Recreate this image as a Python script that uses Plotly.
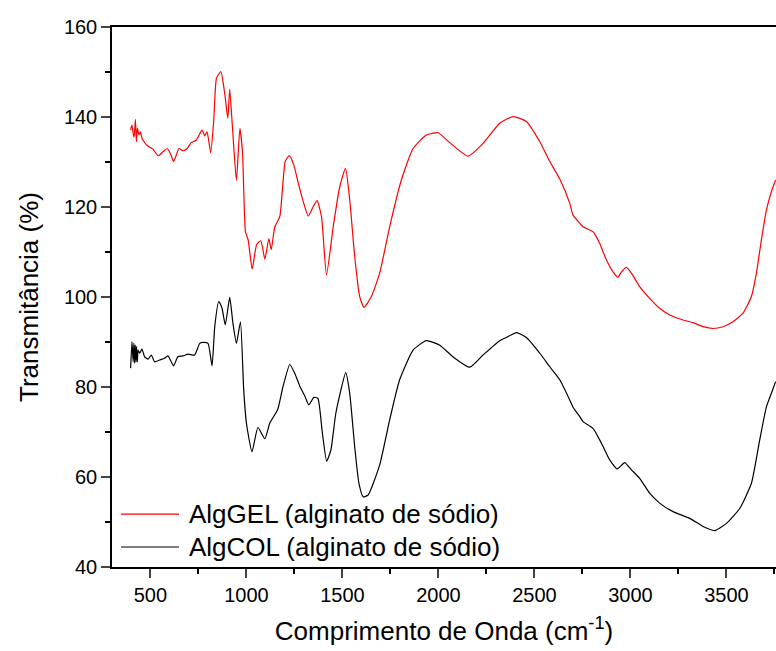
import plotly.graph_objects as go

# FTIR spectra of sodium alginate samples (wavenumber in cm-1, transmittance in %)
gel_wavenumber = [397, 404, 410, 415, 422, 427, 432, 441, 448, 456, 467, 479, 496, 514, 540,
                  566, 588, 604, 621, 649, 670, 691, 713, 739, 769, 783, 795, 814, 830, 844,
                  867, 888, 903, 913, 927, 948, 966, 980, 995, 1009, 1030, 1053, 1075, 1096,
                  1117, 1129, 1148, 1174, 1202, 1223, 1247, 1270, 1296, 1322, 1348, 1368,
                  1391, 1417, 1452, 1486, 1516, 1538, 1564, 1590, 1612, 1651, 1694, 1746,
                  1807, 1868, 1937, 1998, 2059, 2154, 2232, 2319, 2389, 2458, 2528, 2580,
                  2632, 2684, 2701, 2736, 2753, 2805, 2840, 2875, 2909, 2935, 2953, 2979,
                  3005, 3048, 3100, 3152, 3205, 3274, 3326, 3378, 3430, 3482, 3534, 3586,
                  3630, 3656, 3682, 3708, 3734, 3756]
gel_transmittance = [137.1, 138.2, 136.4, 135.5, 139.5, 134.5, 137.5, 136.0, 136.7, 135.3, 134.5,
                     133.8, 133.3, 132.8, 131.4, 132.3, 133.0, 131.9, 130.1, 133.0, 132.5, 133.0,
                     134.3, 134.9, 137.1, 135.8, 136.7, 132.1, 139.3, 148.6, 150.1, 144.9, 139.7,
                     146.2, 137.9, 125.9, 137.5, 131.9, 114.5, 112.7, 106.2, 111.6, 112.5, 108.4,
                     113.0, 110.5, 115.6, 117.9, 130.1, 131.4, 129.3, 125.3, 121.2, 118.0, 120.1,
                     121.4, 117.9, 104.9, 115.6, 124.5, 128.6, 121.6, 109.0, 100.1, 97.7, 100.1,
                     105.3, 115.6, 126.0, 133.0, 136.0, 136.5, 134.3, 131.3, 134.1, 138.6, 140.1,
                     139.0, 134.5, 130.1, 126.2, 120.8, 118.2, 116.4, 115.6, 114.5, 111.9, 108.2,
                     105.6, 104.4, 105.6, 106.6, 105.3, 102.3, 99.7, 97.5, 96.0, 94.9, 94.3, 93.4,
                     93.0, 93.4, 94.5, 96.4, 100.1, 105.3, 112.7, 119.3, 123.4, 126.0]

col_wavenumber = [397, 404, 410, 414, 418, 421, 425, 428, 432, 436, 444, 456, 470, 488, 505,
                  522, 548, 574, 592, 604, 621, 643, 670, 696, 730, 757, 774, 800, 821, 835,
                  856, 873, 890, 913, 930, 948, 969, 986, 1000, 1029, 1060, 1096, 1122, 1163,
                  1190, 1226, 1252, 1280, 1304, 1325, 1351, 1372, 1395, 1418, 1440, 1465, 1486,
                  1517, 1538, 1564, 1586, 1608, 1634, 1694, 1746, 1798, 1868, 1937, 2007, 2076,
                  2163, 2232, 2319, 2354, 2406, 2458, 2528, 2580, 2632, 2684, 2701, 2736, 2753,
                  2805, 2849, 2892, 2932, 2970, 3005, 3048, 3100, 3152, 3222, 3309, 3378, 3439,
                  3500, 3569, 3630, 3673, 3708, 3734, 3756]
col_transmittance = [84.2, 90.1, 85.6, 89.7, 85.3, 89.3, 85.6, 89.0, 85.6, 88.2, 87.5, 88.4, 86.7,
                     86.2, 87.1, 85.6, 86.0, 86.4, 86.9, 86.0, 84.7, 86.7, 86.9, 87.3, 87.1, 89.7,
                     89.9, 89.7, 84.7, 93.4, 99.0, 97.5, 93.8, 99.9, 94.1, 89.7, 94.5, 79.3, 72.0,
                     65.6, 71.0, 68.5, 72.0, 75.0, 80.0, 85.0, 83.0, 80.0, 78.0, 76.0, 77.7, 77.5,
                     70.0, 63.5, 66.0, 74.0, 78.2, 83.2, 78.6, 66.7, 58.6, 55.6, 56.0, 62.7, 72.7,
                     81.6, 88.2, 90.3, 89.3, 86.7, 84.4, 87.1, 90.3, 91.0, 92.1, 91.0, 87.5, 84.5,
                     81.6, 77.1, 75.5, 73.4, 72.3, 70.8, 67.5, 63.8, 61.8, 63.2, 61.6, 59.7, 56.4,
                     54.2, 52.3, 50.8, 49.0, 48.1, 49.7, 53.0, 58.6, 68.2, 75.6, 78.6, 81.2]

series_names = ["AlgGEL (alginato de sódio)", "AlgCOL (alginato de sódio)"]
series_colors = ["#ff0000", "#000000"]

x_ticks = [500, 1000, 1500, 2000, 2500, 3000, 3500]
y_ticks = [40, 60, 80, 100, 120, 140, 160]

FONT = "Liberation Sans, Arial, sans-serif"

fig = go.Figure()
for xs, ys, name, color in [(gel_wavenumber, gel_transmittance, series_names[0], series_colors[0]),
                            (col_wavenumber, col_transmittance, series_names[1], series_colors[1])]:
    fig.add_trace(go.Scatter(x=xs, y=ys, mode="lines", name=name,
                             line=dict(color=color, width=1.2, shape="spline", smoothing=0.5),
                             showlegend=False))

# Legend drawn as line samples plus labels in the lower-left corner of the plot area
legend_rows = [(0.098, series_colors[0], series_names[0]), (0.037, series_colors[1], series_names[1])]
for ypos, color, name in legend_rows:
    fig.add_shape(type="line", xref="paper", yref="paper", x0=0.0136, x1=0.1009, y0=ypos, y1=ypos,
                  line=dict(color=color, width=1.2))
    fig.add_annotation(xref="paper", yref="paper", x=0.113, y=ypos, text=name, showarrow=False,
                       xanchor="left", yanchor="middle", font=dict(family=FONT, size=26, color="black"))

fig.update_layout(
    width=776, height=651,
    margin=dict(l=112, r=0, t=27, b=84),
    paper_bgcolor="white", plot_bgcolor="white",
    font=dict(family=FONT, color="black"),
)
fig.update_xaxes(
    range=[300, 3758], tickvals=x_ticks, ticks="outside", ticklen=9, tickwidth=1.5,
    showline=True, linecolor="black", linewidth=1.5, mirror=True, showgrid=False, zeroline=False,
    tickfont=dict(size=20),
    minor=dict(dtick=250, tick0=250, ticks="outside", ticklen=5, tickwidth=1.5, tickcolor="black"),
    title=dict(text="Comprimento de Onda (cm<sup>-1</sup>)", font=dict(size=26), standoff=17),
)
fig.update_yaxes(
    range=[40, 160], tickvals=y_ticks, ticks="outside", ticklen=9, tickwidth=1.5,
    showline=True, linecolor="black", linewidth=1.5, showgrid=False, zeroline=False,
    tickfont=dict(size=20),
    minor=dict(dtick=10, tick0=0, ticks="outside", ticklen=5, tickwidth=1.5, tickcolor="black"),
    title=dict(text="Transmitância (%)", font=dict(size=26), standoff=18),
)

fig.write_html("out.html")
